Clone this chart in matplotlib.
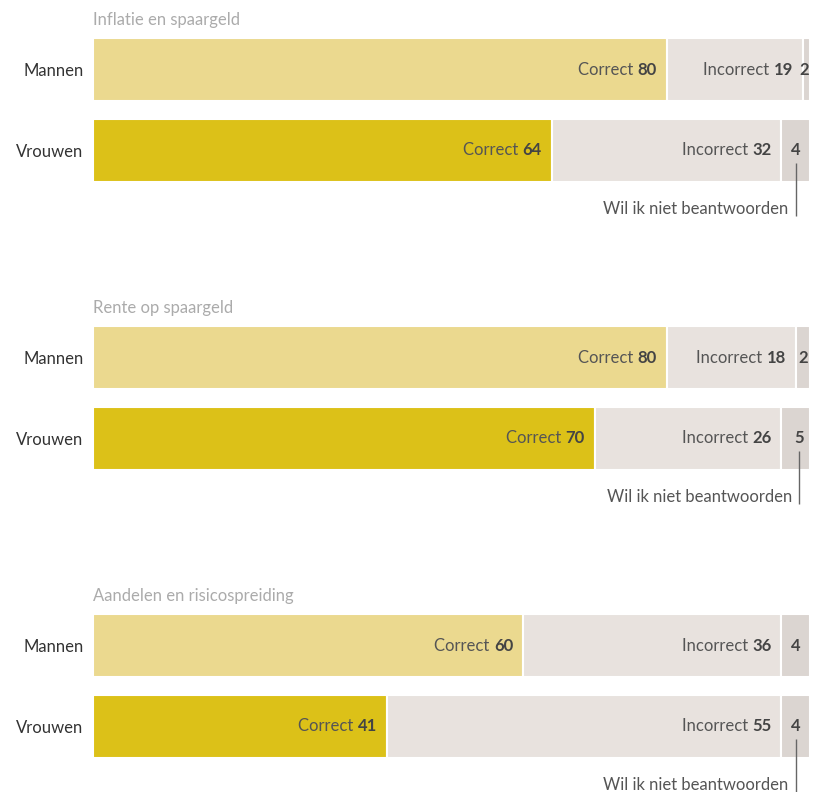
import matplotlib
matplotlib.use("Agg")
from matplotlib import pyplot as plt

# data
topics = ["Inflatie en spaargeld", "Rente op spaargeld", "Aandelen en risicospreiding"]
groups = ["Mannen", "Vrouwen"]
segment_names = ["Correct", "Incorrect", ""]
correct = [[80, 64], [80, 70], [60, 41]]
incorrect = [[19, 32], [18, 26], [36, 55]]
no_answer = [[2, 4], [2, 5], [4, 4]]
note_text = "Wil ik niet beantwoorden"

# styles
FONT = ["Lato", "DejaVu Sans"]
correct_colors = ["#ebd98f", "#dcc118"]
incorrect_color = "#e8e2de"
no_answer_color = "#dbd5d1"
label_color = "#555555"
number_color = "#444444"
title_color = "#ababab"

plt.rcParams["font.family"] = FONT
W, H = 820, 792
fig = plt.figure(figsize=(W / 100, H / 100), dpi=100)

bar_h = 0.78
left_px, right_px = 93, 810
group_tops = [38, 326, 614]
axes_h = 144
px = (1 + bar_h) / axes_h  # data units per pixel on y

for g, topic in enumerate(topics):
    top = group_tops[g]
    ax = fig.add_axes([left_px / W, 1 - (top + axes_h) / H, (right_px - left_px) / W, axes_h / H])
    ax.set_xlim(0, 100)
    ax.set_ylim(1 + bar_h / 2, -bar_h / 2)
    for s in ax.spines.values():
        s.set_visible(False)
    ax.set_xticks([])
    ax.set_yticks(range(len(groups)))
    ax.set_yticklabels(groups, fontsize=12, color="#333333")
    ax.tick_params(axis="y", length=0, pad=7)

    ax.text(0, -bar_h / 2 - 0.12, topic, fontsize=12, color=title_color,
            ha="left", va="bottom")

    for i in range(len(groups)):
        vals = [correct[g][i], incorrect[g][i], no_answer[g][i]]
        colors = [correct_colors[i], incorrect_color, no_answer_color]
        start = 0
        for k, v in enumerate(vals):
            end = min(start + v, 100)
            ax.barh(i, end - start, left=start, height=bar_h, color=colors[k],
                    edgecolor="white", linewidth=1.5)
            if k < 2:
                num = ax.annotate(str(v), xy=(end, i), xytext=(-10, 0),
                                  textcoords="offset pixels", ha="right", va="center",
                                  fontsize=12, fontweight="bold", color=number_color)
                ax.annotate(segment_names[k] + " ", xy=(0, 0), xycoords=num,
                            ha="right", va="bottom", fontsize=12, color=label_color)
            else:
                cx = min(start + v / 2, 99.2)
                ax.text(cx, i, str(v), ha="center", va="center",
                        fontsize=12, fontweight="bold", color=number_color)
                if i == 1:
                    bottom = i + bar_h / 2
                    ax.plot([cx, cx], [i + 13 * px, bottom + 34 * px], color="#666666",
                            lw=1, clip_on=False, solid_capstyle="butt")
                    ax.annotate(note_text, xy=(cx, bottom), xytext=(-7, -27),
                                textcoords="offset pixels", ha="right", va="center",
                                fontsize=12, color=label_color, annotation_clip=False)
            start = end

fig.savefig("out.png", dpi=100)
